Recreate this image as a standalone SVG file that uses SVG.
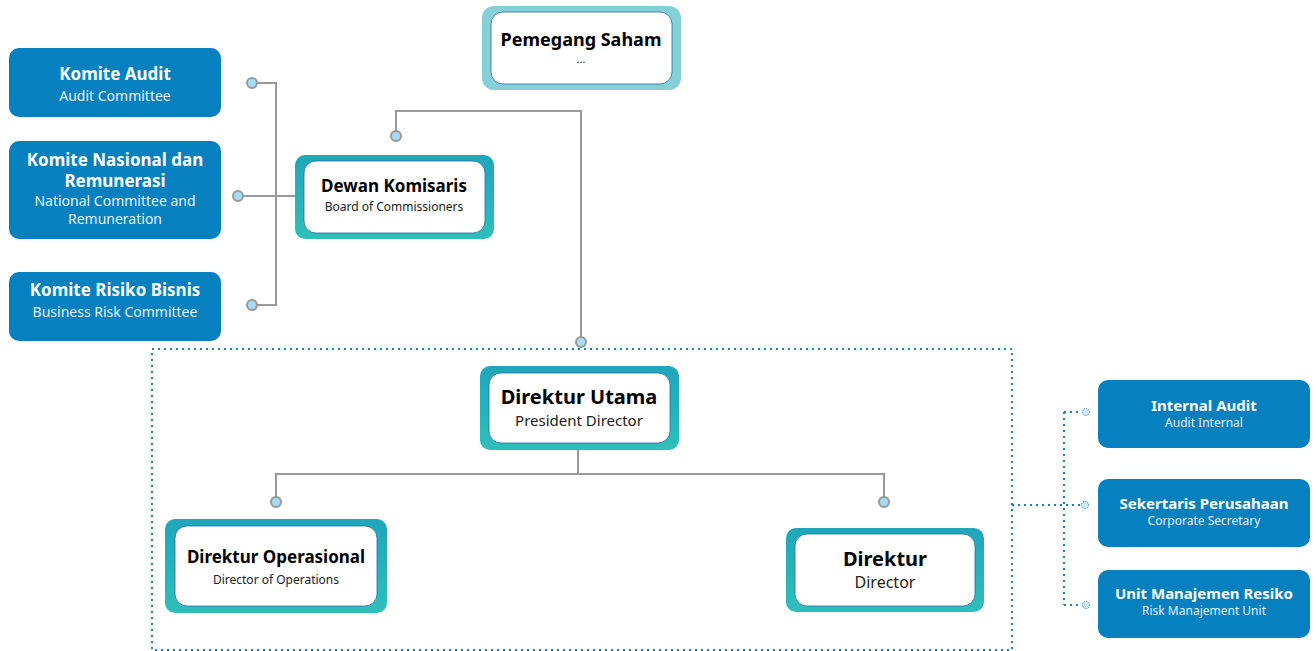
<svg xmlns="http://www.w3.org/2000/svg" width="1316" height="651" viewBox="0 0 1316 651">
<defs>
<linearGradient id="tg" x1="0" y1="0" x2="0" y2="1">
<stop offset="0" stop-color="#1fa6bb"/>
<stop offset="1" stop-color="#2fbfba"/>
</linearGradient>
<style>
.blue{fill:#0680bf}
.outer{fill:url(#tg)}
.inner{fill:#fff;stroke:#2a6aa8;stroke-width:0.8}
.t{font-family:"Noto Sans","Open Sans",sans-serif;text-anchor:middle}
.wb{fill:#fff;font-weight:bold;font-size:17px}
.wn{fill:#e6f2fa;font-size:14px}
.kb{fill:#000;font-weight:bold}
.kn{fill:#222}
.ln{fill:none;stroke:#999;stroke-width:2}
.dot{fill:none;stroke:#1a7fc0;stroke-width:2;stroke-dasharray:2 4}
.ring{fill:#a5dcf7;stroke:#999;stroke-width:2}
.sm{fill:#cfeaf8;stroke:#1a7fc0;stroke-width:1;stroke-dasharray:1 1}
</style>
</defs>

<g id="connectors">
<path class="ln" d="M252 83 H276 V305 H252 M238 196 H297"/>
<path class="ln" d="M396 135 V111 H581 V341"/>
<path class="ln" d="M578 449 V474 M276 502 V474 H884 V502"/>
<rect class="dot" x="152" y="349" width="860" height="301"/>
<path class="dot" d="M1012 505 H1082 M1064 412 V605 M1064 412 H1082 M1064 605 H1082"/>
<circle class="ring" cx="252" cy="83" r="5"/>
<circle class="ring" cx="238" cy="196" r="5"/>
<circle class="ring" cx="252" cy="305" r="5"/>
<circle class="ring" cx="396" cy="136" r="5"/>
<circle class="ring" cx="581" cy="342" r="5"/>
<circle class="ring" cx="276" cy="502" r="5"/>
<circle class="ring" cx="884" cy="502" r="5"/>
<circle class="sm" cx="1086" cy="412" r="3.5"/>
<circle class="sm" cx="1085" cy="505" r="3.5"/>
<circle class="sm" cx="1086" cy="605" r="3.5"/>
</g>

<g id="pemegang-saham">
<rect x="482" y="6" width="199" height="84" rx="12" fill="#84d0d6"/>
<rect class="inner" x="491" y="12" width="181" height="72" rx="12"/>
<text class="t kb" x="581" y="46" font-size="18">Pemegang Saham</text>
<text class="t kn" x="581" y="63" font-size="11">...</text>
</g>

<g id="komite-audit">
<rect class="blue" x="9" y="48" width="212" height="69" rx="10"/>
<text class="t wb" x="115" y="80">Komite Audit</text>
<text class="t wn" x="115" y="101">Audit Committee</text>
</g>

<g id="komite-nasional">
<rect class="blue" x="9" y="141" width="212" height="98" rx="10"/>
<text class="t wb" x="115" y="166">Komite Nasional dan</text>
<text class="t wb" x="115" y="187">Remunerasi</text>
<text class="t wn" x="115" y="206">National Committee and</text>
<text class="t wn" x="115" y="224">Remuneration</text>
</g>

<g id="komite-risiko">
<rect class="blue" x="9" y="272" width="212" height="69" rx="10"/>
<text class="t wb" x="115" y="296">Komite Risiko Bisnis</text>
<text class="t wn" x="115" y="317">Business Risk Committee</text>
</g>

<g id="dewan-komisaris">
<rect class="outer" x="295" y="155" width="199" height="84" rx="10"/>
<rect class="inner" x="304" y="161" width="181" height="72" rx="12"/>
<text class="t kb" x="394" y="192" font-size="17">Dewan Komisaris</text>
<text class="t kn" x="394" y="211" font-size="12">Board of Commissioners</text>
</g>

<g id="direktur-utama">
<rect class="outer" x="480" y="366" width="199" height="84" rx="10"/>
<rect class="inner" x="489" y="373" width="181" height="70" rx="12"/>
<text class="t kb" x="579" y="404" font-size="20">Direktur Utama</text>
<text class="t kn" x="579" y="426" font-size="15">President Director</text>
</g>

<g id="direktur-operasional">
<rect class="outer" x="165" y="519" width="222" height="94" rx="10"/>
<rect class="inner" x="175" y="526" width="202" height="80" rx="12"/>
<text class="t kb" x="276" y="563" font-size="17">Direktur Operasional</text>
<text class="t kn" x="276" y="584" font-size="12">Director of Operations</text>
</g>

<g id="direktur">
<rect class="outer" x="786" y="528" width="198" height="84" rx="10"/>
<rect class="inner" x="795" y="534" width="180" height="72" rx="12"/>
<text class="t kb" x="885" y="566" font-size="20">Direktur</text>
<text class="t kn" x="885" y="588" font-size="16">Director</text>
</g>

<g id="internal-audit">
<rect class="blue" x="1098" y="380" width="212" height="68" rx="10"/>
<text class="t" x="1204" y="411" fill="#fff" font-weight="bold" font-size="15">Internal Audit</text>
<text class="t" x="1204" y="427" fill="#e6f2fa" font-size="12">Audit Internal</text>
</g>

<g id="sekertaris-perusahaan">
<rect class="blue" x="1098" y="479" width="212" height="68" rx="10"/>
<text class="t" x="1204" y="509" fill="#fff" font-weight="bold" font-size="15">Sekertaris Perusahaan</text>
<text class="t" x="1204" y="525" fill="#e6f2fa" font-size="12">Corporate Secretary</text>
</g>

<g id="unit-manajemen-resiko">
<rect class="blue" x="1098" y="570" width="212" height="68" rx="10"/>
<text class="t" x="1204" y="599" fill="#fff" font-weight="bold" font-size="15">Unit Manajemen Resiko</text>
<text class="t" x="1204" y="615" fill="#e6f2fa" font-size="12">Risk Manajement Unit</text>
</g>
</svg>
